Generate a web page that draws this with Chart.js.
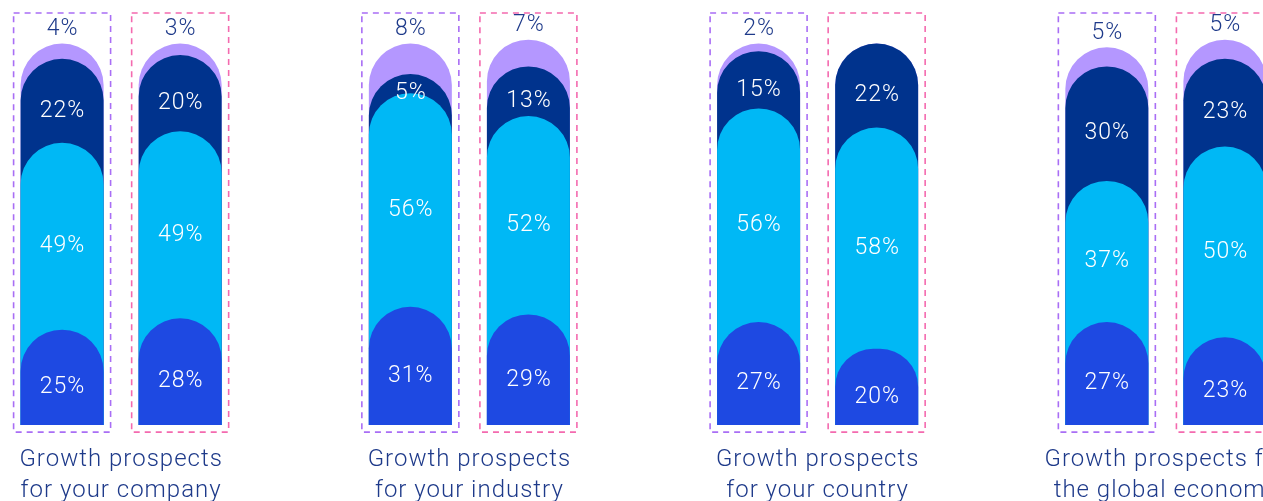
<!DOCTYPE html>
<html lang="en">
<head>
  <meta charset="UTF-8">
  <title>Growth prospects</title>
  <script src="https://cdn.jsdelivr.net/npm/chart.js"></script>
  <style>
    html, body { margin: 0; padding: 0; overflow: hidden; background: #fff; }
    .grafico-wrap { position: absolute; left: -53px; top: 0; width: 1393px; height: 525px; }
  </style>
</head>
<body>
  <div class="grafico-wrap">
    <canvas id="grafico" width="1393" height="525"></canvas>
  </div>

  <script>
    // categories (x axis)
    const categories = [
      ['Growth prospects', 'for your company'],
      ['Growth prospects', 'for your industry'],
      ['Growth prospects', 'for your country'],
      ['Growth prospects for', 'the global economy']
    ];

    // two columns per category, four levels each (bottom -> top), in %
    const groupNames = ['Left column', 'Right column'];
    const levelNames = ['Level 1', 'Level 2', 'Level 3', 'Level 4'];

    const leftLevel1 = [25, 31, 27, 27];
    const leftLevel2 = [49, 56, 56, 37];
    const leftLevel3 = [22, 5, 15, 30];
    const leftLevel4 = [4, 8, 2, 5];

    const rightLevel1 = [28, 29, 20, 23];
    const rightLevel2 = [49, 52, 58, 50];
    const rightLevel3 = [20, 13, 22, 23];
    const rightLevel4 = [3, 7, 0, 5];

    const groups = [
      [leftLevel1, leftLevel2, leftLevel3, leftLevel4],
      [rightLevel1, rightLevel2, rightLevel3, rightLevel4]
    ];

    const levelColors = ['#1E49E2', '#00B8F5', '#00338D', '#B497FF'];
    const frameColors = ['#A96EF5', '#F46AAF'];
    const textDark = '#1E3A8A';

    // each level is drawn as a bar from 0 up to the running total, the lower ones on top
    const datasets = [];
    groups.forEach((levels, g) => {
      const soma = categories.map(() => 0);
      levels.forEach((vals, i) => {
        vals.forEach((v, j) => { soma[j] += v; });
        datasets.push({
          label: groupNames[g] + ' - ' + levelNames[i],
          stack: 'g' + g,
          data: soma.slice(),
          backgroundColor: levelColors[i],
          borderRadius: { topLeft: 200, topRight: 200, bottomLeft: 0, bottomRight: 0 },
          borderSkipped: 'start',
          categoryPercentage: 0.678,
          barPercentage: 0.703
        });
      });
    });

    const rotulos = {
      id: 'rotulos',
      beforeDraw(chart) {
        chart.ctx.letterSpacing = '1px';
      },
      afterDatasetsDraw(chart) {
        const ctx = chart.ctx;
        const yZero = chart.scales.y.getPixelForValue(0);
        const topo = chart.chartArea.top;
        ctx.save();
        ctx.letterSpacing = '1px';
        ctx.font = '300 23px Roboto';
        ctx.textAlign = 'center';
        ctx.textBaseline = 'middle';
        groups.forEach((levels, g) => {
          const n = levels.length;
          chart.getDatasetMeta(g * n + n - 1).data.forEach((bar, j) => {
            ctx.setLineDash([6, 5]);
            ctx.lineWidth = 1.6;
            ctx.strokeStyle = frameColors[g];
            ctx.strokeRect(bar.x - bar.width / 2 - 7, topo, bar.width + 14, yZero + 7 - topo);
            ctx.setLineDash([]);

            let prevY = yZero;
            levels.forEach((vals, i) => {
              const el = chart.getDatasetMeta(g * n + i).data[j];
              const v = vals[j];
              if (v > 0) {
                let y;
                if (i === n - 1) {
                  ctx.fillStyle = textDark;
                  y = el.y - 14;
                } else {
                  ctx.fillStyle = '#fff';
                  y = (el.y + prevY) / 2 + 10;
                }
                ctx.fillText(v + '%', bar.x + 0.5, y);
              }
              prevY = el.y;
            });
          });
        });
        ctx.restore();
      }
    };

    const grafico = new Chart(document.getElementById('grafico').getContext('2d'), {
      type: 'bar',
      data: { labels: categories, datasets: datasets },
      options: {
        responsive: false,
        animation: false,
        layout: { padding: { top: 13, bottom: 0, left: 0, right: 0 } },
        scales: {
          x: {
            stacked: true,
            grid: { display: false, drawTicks: false },
            border: { display: false },
            ticks: {
              color: textDark,
              padding: 19,
              maxRotation: 0,
              autoSkip: false,
              font: { family: 'Roboto', size: 24, weight: '300', lineHeight: 1.29 }
            }
          },
          y: { stacked: false, min: 0, max: 108, display: false }
        },
        plugins: {
          legend: { display: false },
          tooltip: { enabled: false },
          title: { display: false }
        }
      },
      plugins: [rotulos]
    });
  </script>
</body>
</html>
